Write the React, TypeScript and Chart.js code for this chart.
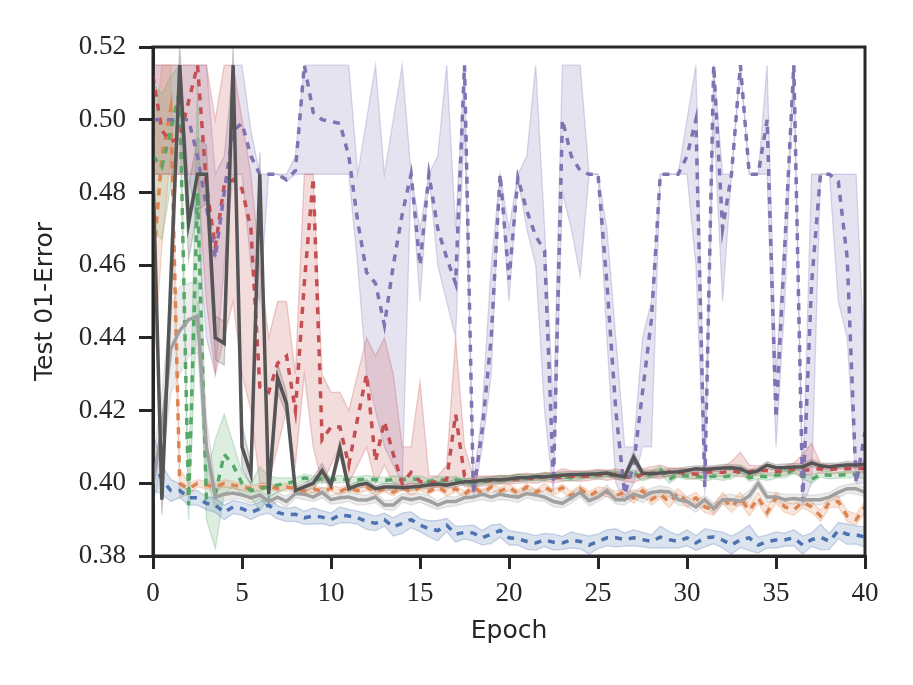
import React, { useEffect, useRef } from 'react';
import { Chart, registerables } from 'chart.js';

Chart.register(...registerables);

// x positions: one point every half epoch
const epochs = Array.from({ length: 81 }, (_, i) => i * 0.5);
const xTicks = [0, 5, 10, 15, 20, 25, 30, 35, 40];
const yTicks = [0.38, 0.4, 0.42, 0.44, 0.46, 0.48, 0.5, 0.52];

const blue = [
  0.406, 0.401, 0.398, 0.398, 0.396, 0.396, 0.3945, 0.394, 0.392, 0.3935,
  0.393, 0.392, 0.393, 0.394, 0.392, 0.3913, 0.3915, 0.3905, 0.391, 0.3907,
  0.39, 0.3913, 0.391, 0.3905, 0.3895, 0.389, 0.39, 0.388, 0.389, 0.39,
  0.3885, 0.3875, 0.387, 0.3885, 0.386, 0.3865, 0.3863, 0.385, 0.386, 0.387,
  0.385, 0.3848, 0.384, 0.3836, 0.3844, 0.3838, 0.3836, 0.3844, 0.384, 0.383,
  0.384, 0.385, 0.385, 0.3845, 0.385, 0.3845, 0.384, 0.3852, 0.3845, 0.384,
  0.385, 0.3836, 0.385, 0.3852, 0.3844, 0.383, 0.3845, 0.385, 0.383, 0.384,
  0.3844, 0.3845, 0.385, 0.383, 0.3845, 0.3852, 0.384, 0.387, 0.386, 0.3858,
  0.3852,
];
const blueSpread = [
  0.008, 0.004, 0.003, 0.002, 0.002, 0.002, 0.0018, 0.002, 0.002, 0.0018,
  0.0018, 0.002, 0.0018, 0.0022, 0.0018, 0.0018, 0.002, 0.0018, 0.0022, 0.0018,
  0.0018, 0.0022, 0.0018, 0.0018, 0.0022, 0.002, 0.0018, 0.0025, 0.0028, 0.0022,
  0.0018, 0.0022, 0.0028, 0.0018, 0.0022, 0.0018, 0.0022, 0.002, 0.0025, 0.0018,
  0.002, 0.0018, 0.0022, 0.002, 0.0018, 0.0022, 0.0018, 0.0022, 0.002, 0.0025,
  0.002, 0.0022, 0.0025, 0.0018, 0.0022, 0.002, 0.0018, 0.003, 0.0022, 0.0018,
  0.0022, 0.002, 0.0025, 0.0018, 0.0022, 0.0025, 0.0022, 0.0035, 0.0022, 0.0018,
  0.0022, 0.0018, 0.0022, 0.0025, 0.0018, 0.0035, 0.0022, 0.0022, 0.0028, 0.0025,
  0.0028,
];

const orange = [
  0.46, 0.49, 0.503, 0.4, 0.3985, 0.4, 0.3995, 0.399, 0.4, 0.3995,
  0.399, 0.3985, 0.399, 0.3992, 0.3985, 0.399, 0.3985, 0.3978, 0.3985, 0.3978,
  0.3986, 0.3978, 0.3988, 0.398, 0.399, 0.3975, 0.3985, 0.3975, 0.399, 0.3975,
  0.399, 0.3978, 0.399, 0.3975, 0.3985, 0.397, 0.399, 0.3972, 0.399, 0.3978,
  0.399, 0.3972, 0.399, 0.3975, 0.399, 0.3975, 0.3988, 0.3965, 0.3985, 0.3965,
  0.398, 0.3975, 0.3966, 0.3976, 0.396, 0.398, 0.3955, 0.397, 0.3948, 0.3973,
  0.3948, 0.396, 0.3935, 0.3927, 0.396, 0.3935, 0.396, 0.3925, 0.396, 0.392,
  0.396, 0.3935, 0.3927, 0.3948, 0.3935, 0.391, 0.3948, 0.395, 0.391, 0.39,
  0.3935,
];
const orangeSpread = [
  0.03, 0.025, 0.012, 0.004, 0.0015, 0.001, 0.001, 0.001, 0.001, 0.001,
  0.0008, 0.0008, 0.001, 0.0008, 0.0008, 0.001, 0.0008, 0.0008, 0.001, 0.0008,
  0.0008, 0.001, 0.0008, 0.0008, 0.001, 0.0008, 0.0008, 0.001, 0.0008, 0.0008,
  0.001, 0.0008, 0.0008, 0.001, 0.0008, 0.0008, 0.001, 0.0008, 0.0008, 0.001,
  0.0008, 0.001, 0.0008, 0.0008, 0.001, 0.0008, 0.001, 0.0012, 0.001, 0.0012,
  0.001, 0.0012, 0.0012, 0.001, 0.0015, 0.0012, 0.0015, 0.0012, 0.0015, 0.0012,
  0.0015, 0.0015, 0.0015, 0.0015, 0.0015, 0.0015, 0.0015, 0.0015, 0.0015, 0.0015,
  0.0015, 0.0015, 0.0015, 0.0015, 0.0015, 0.0015, 0.0015, 0.0015, 0.0015, 0.0015,
  0.0015,
];

const green = [
  0.49, 0.487, 0.497, 0.508, 0.394, 0.48, 0.396, 0.397, 0.408, 0.405,
  0.4, 0.398, 0.3985, 0.399, 0.3995, 0.4, 0.4005, 0.4015, 0.401, 0.4012,
  0.401, 0.4012, 0.401, 0.401, 0.4012, 0.401, 0.4008, 0.401, 0.401, 0.4012,
  0.401, 0.4005, 0.401, 0.4008, 0.401, 0.4005, 0.4, 0.4005, 0.4008, 0.401,
  0.4012, 0.4015, 0.4015, 0.4015, 0.4018, 0.402, 0.4018, 0.4015, 0.402, 0.4022,
  0.4022, 0.4025, 0.4025, 0.402, 0.4028, 0.4015, 0.4025, 0.4037, 0.401, 0.4025,
  0.402, 0.402, 0.4015, 0.402, 0.4018, 0.402, 0.4037, 0.4015, 0.402, 0.4018,
  0.4022, 0.4025, 0.4037, 0.402, 0.401, 0.4025, 0.4022, 0.4022, 0.4025, 0.4025,
  0.4022,
];
const greenSpread = [
  0.02, 0.02, 0.015, 0.007, 0.004, 0.03, 0.006, 0.015, 0.011, 0.006,
  0.003, 0.002, 0.006, 0.003, 0.002, 0.0015, 0.001, 0.001, 0.001, 0.001,
  0.0008, 0.001, 0.0008, 0.0008, 0.001, 0.0008, 0.0008, 0.001, 0.0008, 0.0008,
  0.001, 0.0008, 0.0008, 0.001, 0.0008, 0.0008, 0.001, 0.0008, 0.0008, 0.001,
  0.0008, 0.001, 0.0008, 0.0008, 0.001, 0.0008, 0.001, 0.0008, 0.001, 0.0008,
  0.001, 0.0008, 0.001, 0.0008, 0.001, 0.0008, 0.001, 0.001, 0.001, 0.0008,
  0.001, 0.0008, 0.001, 0.0008, 0.001, 0.0008, 0.001, 0.001, 0.0008, 0.001,
  0.0008, 0.001, 0.001, 0.0008, 0.001, 0.0008, 0.001, 0.0008, 0.001, 0.0008,
  0.001,
];

const red = [
  0.512, 0.497, 0.494, 0.495, 0.505, 0.515, 0.482, 0.465, 0.482, 0.4835,
  0.481, 0.47, 0.4265, 0.425, 0.433, 0.435, 0.42, 0.455, 0.484, 0.412,
  0.4155, 0.4155, 0.405, 0.418, 0.43, 0.406, 0.417, 0.408, 0.4, 0.403,
  0.4005, 0.4, 0.4005, 0.401, 0.419, 0.402, 0.4005, 0.4005, 0.4008, 0.401,
  0.401, 0.4012, 0.4015, 0.4012, 0.4018, 0.4015, 0.4018, 0.402, 0.4018, 0.402,
  0.4025, 0.402, 0.4025, 0.4018, 0.4015, 0.4025, 0.4028, 0.4025, 0.4032, 0.403,
  0.4028, 0.4025, 0.403, 0.4032, 0.403, 0.4035, 0.403, 0.4032, 0.4035, 0.4035,
  0.4032, 0.4035, 0.404, 0.4035, 0.4038, 0.404, 0.4038, 0.404, 0.404, 0.4042,
  0.404,
];
const redHi = [
  0.515, 0.515, 0.515, 0.515, 0.515, 0.515, 0.515, 0.5, 0.515, 0.515,
  0.5, 0.485, 0.46, 0.44, 0.45, 0.45, 0.43, 0.485, 0.485, 0.43,
  0.425, 0.425, 0.42, 0.43, 0.44, 0.435, 0.44, 0.43, 0.41, 0.41,
  0.428, 0.402, 0.402, 0.405, 0.44, 0.41, 0.402, 0.402, 0.402, 0.4022,
  0.4022, 0.4025, 0.4028, 0.4025, 0.403, 0.4028, 0.404, 0.4035, 0.4032, 0.4035,
  0.4038, 0.4035, 0.404, 0.4032, 0.403, 0.404, 0.4045, 0.405, 0.4042, 0.4042,
  0.404, 0.404, 0.4042, 0.4045, 0.4045, 0.406, 0.4085, 0.405, 0.4048, 0.4048,
  0.4045, 0.4048, 0.4055, 0.408, 0.411, 0.4055, 0.405, 0.4052, 0.4055, 0.4055,
  0.4052,
];
const redLo = [
  0.485, 0.485, 0.485, 0.485, 0.485, 0.485, 0.45, 0.43, 0.44, 0.45,
  0.43, 0.42, 0.4, 0.4, 0.41, 0.42, 0.405, 0.43, 0.41, 0.4,
  0.405, 0.41, 0.4, 0.405, 0.41, 0.4, 0.405, 0.4, 0.399, 0.4,
  0.399, 0.399, 0.399, 0.399, 0.402, 0.399, 0.399, 0.3992, 0.3995, 0.3998,
  0.3998, 0.4, 0.4002, 0.4, 0.4005, 0.4002, 0.4005, 0.4008, 0.4005, 0.4008,
  0.4012, 0.4008, 0.4012, 0.4005, 0.4002, 0.4012, 0.4015, 0.4012, 0.402, 0.4018,
  0.4015, 0.4012, 0.4018, 0.402, 0.4018, 0.4022, 0.4018, 0.402, 0.4022, 0.4022,
  0.402, 0.4022, 0.4028, 0.4022, 0.4025, 0.4028, 0.4025, 0.4028, 0.4028, 0.403,
  0.4028,
];

const purple = [
  0.5, 0.5, 0.5, 0.5, 0.5, 0.49, 0.476, 0.462, 0.48, 0.497,
  0.499, 0.49, 0.485, 0.485, 0.485, 0.4835, 0.486, 0.515, 0.502, 0.5,
  0.4995, 0.499, 0.49, 0.472, 0.458, 0.455, 0.4435, 0.46, 0.474, 0.485,
  0.46, 0.485, 0.47, 0.462, 0.455, 0.515, 0.397, 0.415, 0.44, 0.485,
  0.456, 0.484, 0.475, 0.468, 0.464, 0.4, 0.5, 0.49, 0.486, 0.485,
  0.485, 0.455, 0.42, 0.397, 0.405, 0.425, 0.445, 0.485, 0.485, 0.485,
  0.49, 0.5, 0.399, 0.515, 0.47, 0.485, 0.515, 0.485, 0.485, 0.5,
  0.418, 0.466, 0.515, 0.395, 0.455, 0.485, 0.485, 0.483, 0.462, 0.4,
  0.414,
];
const purpleHi = [
  0.515, 0.515, 0.515, 0.515, 0.515, 0.515, 0.515, 0.485, 0.49, 0.515,
  0.515, 0.497, 0.485, 0.485, 0.485, 0.485, 0.49, 0.515, 0.515, 0.515,
  0.515, 0.515, 0.515, 0.485, 0.5, 0.515, 0.485, 0.5, 0.515, 0.485,
  0.47, 0.485, 0.49, 0.515, 0.47, 0.515, 0.4, 0.42, 0.46, 0.485,
  0.47, 0.485, 0.49, 0.515, 0.47, 0.42, 0.515, 0.515, 0.515, 0.485,
  0.485, 0.47, 0.44, 0.41, 0.41, 0.44, 0.45, 0.485, 0.485, 0.485,
  0.5, 0.515, 0.41, 0.515, 0.485, 0.485, 0.515, 0.485, 0.485, 0.515,
  0.43, 0.47, 0.515, 0.4, 0.485, 0.485, 0.485, 0.485, 0.485, 0.485,
  0.43,
];
const purpleLo = [
  0.485, 0.485, 0.485, 0.485, 0.485, 0.47, 0.44, 0.43, 0.46, 0.485,
  0.485, 0.46, 0.45, 0.485, 0.485, 0.483, 0.485, 0.485, 0.485, 0.485,
  0.485, 0.485, 0.485, 0.46, 0.43, 0.42, 0.41, 0.405, 0.4, 0.485,
  0.45, 0.485, 0.46, 0.45, 0.44, 0.5, 0.396, 0.41, 0.43, 0.485,
  0.45, 0.484, 0.47, 0.46, 0.42, 0.397, 0.48, 0.47, 0.457, 0.485,
  0.485, 0.44, 0.4, 0.395, 0.4, 0.41, 0.41, 0.485, 0.485, 0.485,
  0.485, 0.46, 0.397, 0.5, 0.45, 0.485, 0.515, 0.485, 0.485, 0.485,
  0.41, 0.45, 0.515, 0.394, 0.4, 0.485, 0.485, 0.45, 0.44, 0.4,
  0.4,
];

const darkGray = [
  0.485, 0.3955, 0.455, 0.515, 0.4715, 0.485, 0.485, 0.44, 0.4385, 0.515,
  0.41, 0.4025, 0.485, 0.397, 0.429, 0.422, 0.398, 0.399, 0.4, 0.4035,
  0.3995, 0.4097, 0.3985, 0.3995, 0.4, 0.3985, 0.399, 0.399, 0.3988, 0.399,
  0.3992, 0.3995, 0.3998, 0.3995, 0.4, 0.4004, 0.4005, 0.4008, 0.401, 0.401,
  0.4012, 0.4015, 0.4015, 0.4018, 0.4018, 0.402, 0.4022, 0.4024, 0.4024, 0.4025,
  0.4026, 0.4028, 0.4022, 0.4018, 0.4072, 0.4028, 0.4026, 0.4028, 0.403, 0.4032,
  0.4035, 0.404, 0.4038, 0.404, 0.4042, 0.4043, 0.404, 0.4028, 0.4035, 0.405,
  0.4043, 0.4043, 0.4045, 0.4045, 0.4056, 0.4048, 0.4045, 0.4048, 0.405, 0.405,
  0.4052,
];
const darkSpread = [
  0.01, 0.004, 0.01, 0.005, 0.01, 0.01, 0.008, 0.006, 0.006, 0.005,
  0.006, 0.003, 0.006, 0.002, 0.004, 0.003, 0.001, 0.001, 0.0015, 0.002,
  0.001, 0.002, 0.001, 0.0008, 0.001, 0.0008, 0.001, 0.0008, 0.0008, 0.001,
  0.0008, 0.001, 0.0008, 0.0008, 0.001, 0.0008, 0.001, 0.0008, 0.0008, 0.001,
  0.0008, 0.001, 0.0008, 0.0008, 0.001, 0.0008, 0.001, 0.0008, 0.001, 0.0008,
  0.001, 0.0008, 0.001, 0.0008, 0.0015, 0.0008, 0.001, 0.001, 0.001, 0.0008,
  0.001, 0.0008, 0.001, 0.0008, 0.001, 0.0008, 0.001, 0.001, 0.0008, 0.001,
  0.0008, 0.001, 0.001, 0.0008, 0.001, 0.0008, 0.001, 0.0008, 0.001, 0.0008,
  0.001,
];

const lightGray = [
  0.4, 0.415, 0.437, 0.442, 0.445, 0.446, 0.41, 0.3962, 0.397, 0.3973,
  0.3968, 0.396, 0.3968, 0.395, 0.3962, 0.395, 0.3972, 0.397, 0.3962, 0.3975,
  0.3955, 0.396, 0.3962, 0.3955, 0.3954, 0.3962, 0.394, 0.394, 0.396, 0.3955,
  0.396, 0.3952, 0.394, 0.395, 0.395, 0.396, 0.3962, 0.397, 0.3962, 0.397,
  0.3965, 0.3962, 0.3972, 0.3968, 0.3962, 0.395, 0.3945, 0.396, 0.3975, 0.3952,
  0.3962, 0.398, 0.3955, 0.3955, 0.397, 0.3962, 0.3975, 0.3978, 0.3976, 0.3955,
  0.395, 0.3935, 0.3955, 0.393, 0.3955, 0.3955, 0.395, 0.3965, 0.4, 0.3962,
  0.3962, 0.3955, 0.3958, 0.3955, 0.3955, 0.3955, 0.3962, 0.3975, 0.3985, 0.3985,
  0.3975,
];
const lightSpread = [
  0.006, 0.01, 0.012, 0.012, 0.01, 0.01, 0.008, 0.003, 0.002, 0.0015,
  0.0012, 0.0015, 0.0012, 0.0015, 0.0012, 0.0015, 0.0012, 0.0015, 0.0012, 0.0015,
  0.0012, 0.0015, 0.0012, 0.0015, 0.0012, 0.0015, 0.0012, 0.0015, 0.0012, 0.0015,
  0.0012, 0.0015, 0.0012, 0.0015, 0.0012, 0.0015, 0.0012, 0.0015, 0.0012, 0.0015,
  0.0012, 0.0015, 0.0012, 0.0015, 0.0012, 0.0015, 0.0012, 0.0015, 0.0012, 0.0015,
  0.0012, 0.0015, 0.0012, 0.0015, 0.0012, 0.0015, 0.0012, 0.0015, 0.0012, 0.0015,
  0.0012, 0.0015, 0.0012, 0.0015, 0.0012, 0.0015, 0.0012, 0.0015, 0.0012, 0.0015,
  0.0012, 0.0015, 0.0012, 0.0015, 0.0012, 0.0015, 0.0012, 0.0015, 0.0012, 0.0015,
  0.0012,
];

const INK = '#262626';
const DOTS = [7, 7];

const hexA = (hex: string, a: number) => {
  const n = parseInt(hex.slice(1), 16);
  return `rgba(${(n >> 16) & 255},${(n >> 8) & 255},${n & 255},${a})`;
};
const pts = (ys: number[]) => ys.map((y, i) => ({ x: epochs[i], y }));
const minus = (m: number[], s: number[]) => m.map((v, i) => v - s[i]);
const plus = (m: number[], s: number[]) => m.map((v, i) => v + s[i]);

const series = [
  { mean: blue, lo: minus(blue, blueSpread), hi: plus(blue, blueSpread), color: '#4c72b0', dash: DOTS, order: 7 },
  { mean: orange, lo: minus(orange, orangeSpread), hi: plus(orange, orangeSpread), color: '#dd8452', dash: DOTS, order: 6 },
  { mean: green, lo: minus(green, greenSpread), hi: plus(green, greenSpread), color: '#55a868', dash: DOTS, order: 5 },
  { mean: red, lo: redLo, hi: redHi, color: '#c44e52', dash: DOTS, order: 4 },
  { mean: purple, lo: purpleLo, hi: purpleHi, color: '#8172b3', dash: DOTS, order: 3 },
  { mean: lightGray, lo: minus(lightGray, lightSpread), hi: plus(lightGray, lightSpread), color: '#a0a0a0', dash: [], order: 2 },
  { mean: darkGray, lo: minus(darkGray, darkSpread), hi: plus(darkGray, darkSpread), color: '#555555', dash: [], order: 1 },
];

const framePlugin = {
  id: 'frame',
  afterDraw(chart: any) {
    const { ctx, chartArea: a } = chart;
    ctx.save();
    ctx.strokeStyle = INK;
    ctx.lineWidth = 3;
    ctx.strokeRect(a.left, a.top, a.right - a.left, a.bottom - a.top);
    ctx.restore();
  },
};

export default function App() {
  const canvasRef = useRef<HTMLCanvasElement>(null);

  useEffect(() => {
    if (!canvasRef.current) return;
    const datasets: any[] = [];
    series.forEach((s, k) => {
      const edge = { borderColor: hexA(s.color, 0.28), borderWidth: 1.3, pointRadius: 0, tension: 0, order: 50 + k };
      datasets.push({ ...edge, data: pts(s.lo), fill: false });
      datasets.push({ ...edge, data: pts(s.hi), fill: '-1', backgroundColor: hexA(s.color, 0.2) });
    });
    series.forEach((s) => {
      datasets.push({
        data: pts(s.mean),
        borderColor: s.color,
        borderWidth: 3.5,
        borderDash: s.dash,
        pointRadius: 0,
        fill: false,
        tension: 0,
        order: s.order,
      });
    });

    const chart = new Chart(canvasRef.current, {
      type: 'line',
      data: { datasets },
      plugins: [framePlugin],
      options: {
        animation: false,
        responsive: false,
        events: [],
        layout: { padding: { top: 47, right: 48, left: 0, bottom: 0 } },
        plugins: { legend: { display: false }, tooltip: { enabled: false } },
        scales: {
          x: {
            type: 'linear',
            min: 0,
            max: 40,
            afterBuildTicks: (s: any) => { s.ticks = xTicks.map((v) => ({ value: v })); },
            afterFit: (s: any) => { s.height = 129; },
            grid: { drawOnChartArea: false, drawTicks: true, tickLength: 13, color: INK, lineWidth: 3 },
            border: { display: true, color: INK, width: 3 },
            ticks: { color: INK, padding: 9, maxRotation: 0, font: { family: 'Liberation Serif', size: 27 } },
            title: { display: true, text: 'Epoch', color: INK, padding: { top: 0, bottom: 39 }, font: { family: 'DejaVu Sans', size: 25 } },
          },
          y: {
            type: 'linear',
            min: 0.38,
            max: 0.52,
            afterBuildTicks: (s: any) => { s.ticks = yTicks.map((v) => ({ value: v })); },
            afterFit: (s: any) => { s.width = 153; },
            grid: { drawOnChartArea: false, drawTicks: true, tickLength: 14, color: INK, lineWidth: 3 },
            border: { display: true, color: INK, width: 3 },
            ticks: { color: INK, padding: 13, font: { family: 'Liberation Serif', size: 27 }, callback: (v: any) => Number(v).toFixed(2) },
            title: { display: true, text: 'Test 01-Error', color: INK, padding: { top: 30, bottom: 0 }, font: { family: 'DejaVu Sans', size: 25 } },
          },
        },
      },
    });
    return () => chart.destroy();
  }, []);

  return (
    <div style={{ position: 'absolute', left: 0, top: 0, width: 913, height: 685, background: '#fff' }}>
      <canvas ref={canvasRef} width={913} height={685} style={{ width: 913, height: 685 }} />
    </div>
  );
}
